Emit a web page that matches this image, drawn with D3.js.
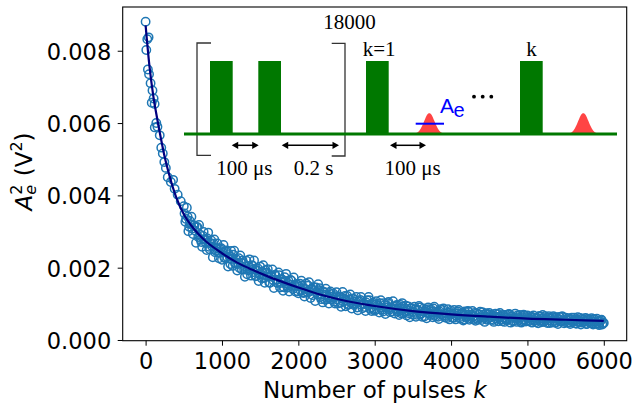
<!DOCTYPE html>
<html>
<head>
<meta charset="utf-8">
<script src="https://cdn.jsdelivr.net/npm/d3@7"></script>
<style>
  body { margin: 0; background: #fff; }
</style>
</head>
<body>
<script>
// tick labels
const xTicks = [0, 1000, 2000, 3000, 4000, 5000, 6000];
const yTicks = [0, 0.002, 0.004, 0.006, 0.008];

// first pulses, read one by one (amplitude in 1e-5 V^2)
const earlyPulses = [0, 9, 22, 39, 30, 45, 65, 90, 80, 105, 118, 140, 120, 155, 185, 205, 225, 245, 265, 290, 330, 360, 380, 420, 460];
const earlyAmp = [880, 802, 832, 837, 748, 735, 710, 690, 656, 668, 653, 600, 588, 590, 566, 532, 516, 492, 476, 450, 437, 443, 418, 402, 384];

// rest of the measurement, every 20 pulses from k=500 (1e-5 V^2)
const pulseStep = 20;
const pulseStartA = 500;
const ampA = [
  370,327,366,301,329,341,293,317,269,312,318,278,258,299,279,249,297,251,275,229,278,247,267,226,252,
  222,263,226,248,203,232,246,205,247,212,192,226,234,195,213,175,219,193,223,178,206,220,176,193,163,
  203,171,207,158,186,196,158,177,195,144,180,158,187,145,168,136,174,183,145,134,166,147,173,134,154,
  129,156,164,131,120,156,131,160,116,141,146,108,133,154,143,113,104,133,142,113,101,134,113,128,101,
  132,101,120,92,133,114,93,122,99,126,87,114,100,119,82,107,119,88,101,80,110,119,86,80,103,
  81,107,97,76,110,84,102,72,94,105,77,90,107,73,95,80,69,97,102,74,87,68,93,63,88,
  70,92,64,84,94,71,64,87,79,60,90,73,84,63,92,65,79,58,85,71,87,62,67,85,57,
  81,62,83,57,72,83,59,74,54,79,62,80,56,69,80,58,53,74,62,78,55,70,50,74,58,
  75,56,67,50,73,64,52,75,56,69,50,69,58,72,48,66,53,73,50,63,69,48,55,67,51,
  68,52,63,48,68,54,61,46,66,49,69,52,61,47,66,54,48,66,49,63,44,64,52,65,46,
  62,48,57,44,62,50,56,45,63,49,43,59,50,61,44,56,47,60,43,57,45,51,41,55,43,47
];
// the pulses in between (k=510, 530, ...)
const pulseStartB = 510;
const ampB = [
  350,335,341,313,320,308,317,302,312,285,292,271,288,277,268,281,258,267,259,266,243,253,254,241,254,
  243,229,245,229,237,210,224,236,212,223,210,199,214,220,195,204,182,205,196,206,188,194,177,198,182,
  181,188,171,193,176,183,158,175,166,180,167,158,179,161,167,146,162,150,164,152,164,141,151,154,135,
  148,137,151,130,141,134,150,134,141,124,136,145,126,138,119,126,132,111,126,118,130,112,120,106,121,
  112,120,103,116,106,122,109,97,113,103,114,97,106,90,107,111,97,101,91,104,97,110,90,99,85,
  98,85,94,102,89,79,97,89,102,83,90,79,92,85,97,78,88,73,92,79,95,81,74,87,78,
  77,85,70,81,90,73,79,65,84,75,85,69,78,87,69,75,64,79,71,83,68,74,61,76,70,
  73,61,75,67,79,63,70,76,57,71,65,78,60,71,65,75,61,56,71,63,77,61,66,56,71,
  62,70,55,66,59,72,61,66,52,69,62,55,71,58,66,51,62,59,68,55,62,52,70,57,63,
  61,53,65,56,62,49,59,66,54,60,50,66,56,62,47,59,63,53,48,60,57,51,65,54,50,
  55,60,48,57,51,62,46,56,52,61,48,57,53,44,59,50,56,46,58,51,59,44,52,56,47
];

// fitted curve (1e-5 V^2)
const fitPulses = [0, 50, 100, 150, 200, 250, 300, 400, 500, 600, 700, 800, 1000, 1200, 1400, 1600, 1800, 2000, 2250, 2500, 2750, 3000, 3500, 4000, 4500, 5000, 5500, 6000];
const fitAmp = [870, 758, 676, 614, 558, 506, 464, 395, 348, 316, 291, 271, 240, 214, 194, 176, 160, 145, 128, 114, 103, 94, 80, 71, 64.5, 59, 56, 53];

const W = 633, H = 405;
const plot = {left: 122.7, right: 626.7, top: 7, bottom: 340.7};
const SANS = "'DejaVu Sans', sans-serif";
const SERIF = "'Liberation Serif', 'Times New Roman', serif";

var points = earlyPulses.map((k, i) => ({k: k, a: earlyAmp[i] * 1e-5}))
  .concat(ampA.map((v, i) => ({k: pulseStartA + i * pulseStep, a: v * 1e-5})))
  .concat(ampB.map((v, i) => ({k: pulseStartB + i * pulseStep, a: v * 1e-5})))
  .sort((a, b) => a.k - b.k);
var fit = fitPulses.map((k, i) => ({k: k, a: fitAmp[i] * 1e-5}));

var x = d3.scaleLinear().domain([-300, 6300]).range([plot.left, plot.right]);
var y = d3.scaleLinear().domain([-0.0000194, 0.00921]).range([plot.bottom, plot.top]);

var svg = d3.select("body").append("svg")
  .attr("width", W)
  .attr("height", H)
  .style("display", "block");

svg.append("defs").append("clipPath").attr("id", "clip")
  .append("rect")
  .attr("x", plot.left).attr("y", plot.top)
  .attr("width", plot.right - plot.left).attr("height", plot.bottom - plot.top);

// data
var data = svg.append("g").attr("clip-path", "url(#clip)");
data.selectAll("circle")
  .data(points)
  .enter().append("circle")
    .attr("cx", d => x(d.k))
    .attr("cy", d => y(d.a))
    .attr("r", 4.2)
    .attr("fill", "none")
    .attr("stroke", "#1f77b4")
    .attr("stroke-width", 1.5);

data.append("path")
  .datum(fit)
  .attr("d", d3.line().x(d => x(d.k)).y(d => y(d.a)).curve(d3.curveMonotoneX))
  .attr("fill", "none")
  .attr("stroke", "#000080")
  .attr("stroke-width", 2.2);

// axes
function styleAxis (g) {
  g.select(".domain").remove();
  g.selectAll(".tick line").attr("stroke", "#000").attr("stroke-width", 1);
  g.selectAll(".tick text")
    .attr("fill", "#000")
    .style("font-family", SANS)
    .style("font-size", "22.5px");
}

svg.append("g")
  .attr("transform", `translate(0,${plot.bottom})`)
  .call(d3.axisBottom(x).tickValues(xTicks).tickFormat(d3.format("d")).tickSize(5).tickPadding(7))
  .call(styleAxis);

svg.append("g")
  .attr("transform", `translate(${plot.left},0)`)
  .call(d3.axisLeft(y).tickValues(yTicks).tickFormat(d3.format(".3f")).tickSize(5).tickPadding(6.5))
  .call(styleAxis)
  .call(g => g.selectAll(".tick text").attr("dy", "0.38em"));

svg.append("rect")
  .attr("x", plot.left).attr("y", plot.top)
  .attr("width", plot.right - plot.left).attr("height", plot.bottom - plot.top)
  .attr("fill", "none")
  .attr("stroke", "#000")
  .attr("stroke-width", 1.1);

// x label
var xl = svg.append("text")
  .attr("x", (plot.left + plot.right) / 2)
  .attr("y", 398)
  .attr("text-anchor", "middle")
  .style("font-family", SANS)
  .style("font-size", "23px");
xl.append("tspan").text("Number of pulses ");
xl.append("tspan").style("font-style", "italic").text("k");

// y label, built piece by piece (rotated)
var yl = svg.append("g").attr("transform", "translate(32,171.5) rotate(-90)");
var pieces = [
  {t: "A", size: 23, dy: 0, it: true},
  {t: "e", size: 16, dy: 4, it: true, stackNext: true},
  {t: "2", size: 16, dy: -10},
  {t: "\u00a0(V", size: 23, dy: 0},
  {t: "2", size: 16, dy: -10},
  {t: ")", size: 23, dy: 0}
];
var cx = 0, stackStart = null, stackW = 0;
pieces.forEach(function (p) {
  var t = yl.append("text")
    .attr("y", p.dy)
    .style("font-family", SANS)
    .style("font-size", p.size + "px")
    .style("font-style", p.it ? "italic" : "normal")
    .text(p.t);
  var start = stackStart !== null ? stackStart : cx;
  t.attr("x", start);
  var w = t.node().getComputedTextLength();
  if (p.stackNext) {
    stackStart = cx; stackW = w; cx += w;
  } else if (stackStart !== null) {
    cx = stackStart + Math.max(w, stackW) + 1;
    stackStart = null;
  } else {
    cx += w;
  }
});
yl.selectAll("text").attr("x", function () { return +d3.select(this).attr("x") - cx / 2; });

// inset schematic
var inset = svg.append("g");
var GREEN = "#007800";

inset.append("path")
  .attr("d", "M211,43H197V155.3H211")
  .attr("fill", "none").attr("stroke", "#333").attr("stroke-width", 1.3);
inset.append("path")
  .attr("d", "M331.7,43.3H345V156H331.7")
  .attr("fill", "none").attr("stroke", "#333").attr("stroke-width", 1.3);

var bump = d3.line().curve(d3.curveBasis);
[429.3, 583.3].forEach(function (c) {
  var pts = d3.range(-15, 15.5, 1).map(t => [c + t, 134 - 21 * Math.exp(-(t * t) / (2 * 5.2 * 5.2))]);
  inset.append("path")
    .attr("d", bump(pts) + "Z")
    .attr("fill", "#ff4444")
    .attr("stroke", "none");
});

inset.append("line")
  .attr("x1", 184).attr("x2", 617).attr("y1", 134).attr("y2", 134)
  .attr("stroke", GREEN).attr("stroke-width", 3);

inset.selectAll("rect.bar")
  .data([210, 258.3, 366, 520])
  .enter().append("rect")
    .attr("class", "bar")
    .attr("x", d => d).attr("y", 61)
    .attr("width", 22.7).attr("height", 74)
    .attr("fill", GREEN);

inset.append("line")
  .attr("x1", 415.7).attr("x2", 444).attr("y1", 123.7).attr("y2", 123.7)
  .attr("stroke", "#0000ff").attr("stroke-width", 2);
inset.append("text").attr("x", 440).attr("y", 112.7)
  .style("font-family", "'Liberation Sans', Arial, sans-serif").style("font-size", "21px")
  .attr("fill", "#0000ff").text("A");
inset.append("text").attr("x", 453.5).attr("y", 117)
  .style("font-family", "'Liberation Sans', Arial, sans-serif").style("font-size", "20px")
  .attr("fill", "#0000ff").text("e");
inset.selectAll("circle.dot")
  .data([474, 482.7, 491.3])
  .enter().append("circle")
    .attr("class", "dot")
    .attr("cx", d => d).attr("cy", 96.7).attr("r", 1.9)
    .attr("fill", "#000");

function arrow (x1, x2, yy) {
  var hl = 6.5, hw = 3.6;
  inset.append("line")
    .attr("x1", x1 + 2).attr("x2", x2 - 2).attr("y1", yy).attr("y2", yy)
    .attr("stroke", "#000").attr("stroke-width", 1.5);
  inset.append("path")
    .attr("d", `M${x1},${yy}L${x1 + hl},${yy - hw}L${x1 + hl},${yy + hw}Z M${x2},${yy}L${x2 - hl},${yy - hw}L${x2 - hl},${yy + hw}Z`)
    .attr("fill", "#000");
}
arrow(231.7, 258.7, 145.3);
arrow(281.7, 339, 145.3);
arrow(390, 426, 145.3);

function serif (txt, xx, yy, anchor) {
  inset.append("text")
    .attr("x", xx).attr("y", yy)
    .attr("text-anchor", anchor || "middle")
    .style("font-family", SERIF)
    .style("font-size", "21px")
    .attr("fill", "#000")
    .text(txt);
}
serif("18000", 349.5, 29.3);
serif("k=1", 362.7, 56, "start");
serif("k", 531.5, 56);
serif("100 \u03bcs", 244.3, 174.5);
serif("0.2 s", 313.7, 174.5);
serif("100 \u03bcs", 412.5, 174.5);
</script>
</body>
</html>
